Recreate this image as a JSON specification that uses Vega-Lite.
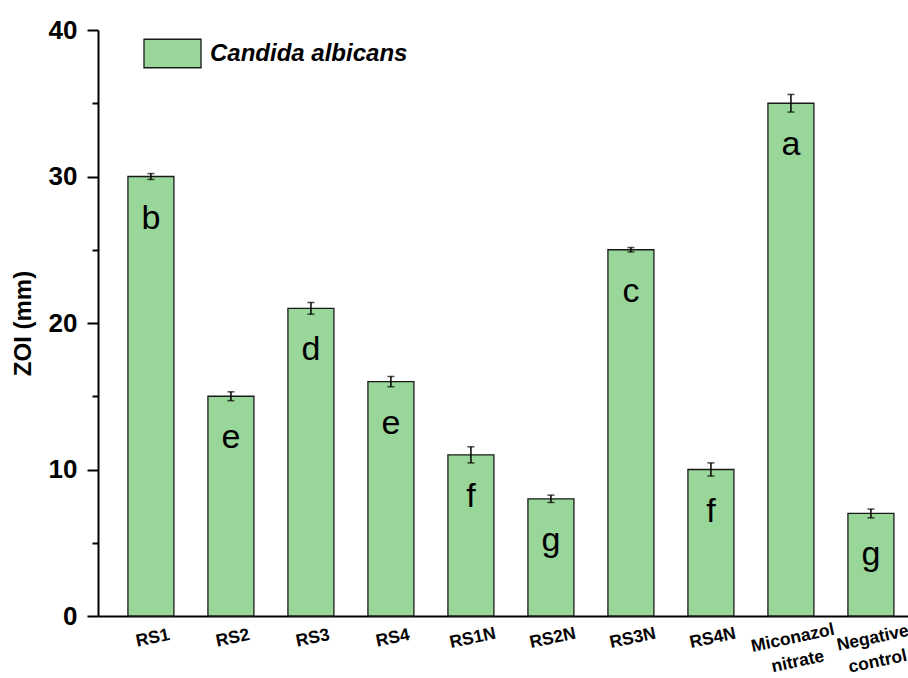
{
  "$schema": "https://vega.github.io/schema/vega-lite/v6.json",
  "autosize": {"type": "none"},
  "width": 810,
  "height": 586,
  "padding": {"left": 98, "top": 30, "right": 0, "bottom": 62},
  "background": "white",
  "config": {
    "view": {"stroke": null},
    "font": "Liberation Sans",
    "axis": {"domainColor": "black", "domainWidth": 2, "tickColor": "black", "tickWidth": 2, "labelColor": "black", "titleColor": "black", "grid": false}
  },
  "data": {
    "values": [
      {"sample": "RS1", "zoi": 30, "err": 0.2, "letter": "b", "organism": "Candida albicans"},
      {"sample": "RS2", "zoi": 15, "err": 0.3, "letter": "e", "organism": "Candida albicans"},
      {"sample": "RS3", "zoi": 21, "err": 0.4, "letter": "d", "organism": "Candida albicans"},
      {"sample": "RS4", "zoi": 16, "err": 0.35, "letter": "e", "organism": "Candida albicans"},
      {"sample": "RS1N", "zoi": 11, "err": 0.55, "letter": "f", "organism": "Candida albicans"},
      {"sample": "RS2N", "zoi": 8, "err": 0.25, "letter": "g", "organism": "Candida albicans"},
      {"sample": "RS3N", "zoi": 25, "err": 0.15, "letter": "c", "organism": "Candida albicans"},
      {"sample": "RS4N", "zoi": 10, "err": 0.45, "letter": "f", "organism": "Candida albicans"},
      {"sample": "Miconazol nitrate", "zoi": 35, "err": 0.6, "letter": "a", "organism": "Candida albicans"},
      {"sample": "Negative control", "zoi": 7, "err": 0.3, "letter": "g", "organism": "Candida albicans"}
    ]
  },
  "encoding": {
    "x": {
      "field": "sample", "type": "nominal", "sort": null,
      "scale": {"paddingInner": 0.425, "paddingOuter": 0.275, "align": 0.68},
      "axis": {"title": null, "ticks": false, "labelAngle": -12, "labelAlign": "center", "labelBaseline": "top", "labelPadding": 13, "labelFont": "Liberation Sans", "labelFontWeight": "bold", "labelFontSize": 17.5, "labelLineHeight": 24, "labelLimit": 200, "labelExpr": "split(datum.label, ' ')"}
    }
  },
  "layer": [
    {
      "mark": {"type": "bar", "stroke": "#1a1a1a", "strokeWidth": 1.3},
      "encoding": {
        "y": {
          "field": "zoi", "type": "quantitative", "title": "ZOI (mm)",
          "scale": {"domain": [0, 40], "nice": false},
          "axis": {
            "title": "ZOI (mm)", "titleFontSize": 24, "titleFontWeight": "bold", "titlePadding": 13,
            "values": [0, 5, 10, 15, 20, 25, 30, 35, 40],
            "labelExpr": "datum.value % 10 === 0 ? datum.label : ''",
            "labelFontSize": 26, "labelFontWeight": "bold", "labelPadding": 10,
            "tickSize": {"condition": {"test": "datum.value % 10 === 0", "value": 11}, "value": 6}
          }
        },
        "color": {
          "field": "organism", "type": "nominal",
          "scale": {"range": ["#98d69a"]},
          "legend": {
            "title": null, "orient": "none", "legendX": 45, "legendY": -6,
            "symbolType": "M-1,-0.5H1V0.5H-1Z", "symbolSize": 3249,
            "symbolStrokeColor": "#1a1a1a", "symbolStrokeWidth": 1.3, "symbolOpacity": 1,
            "labelFontSize": 24, "labelFontWeight": "bold", "labelFontStyle": "italic", "labelColor": "black", "labelOffset": 8, "labelLimit": 400, "padding": 0
          }
        }
      }
    },
    {
      "mark": {"type": "errorbar", "ticks": {"size": 7, "color": "black", "thickness": 1.5}, "rule": {"color": "black", "strokeWidth": 1.5}},
      "encoding": {
        "y": {"field": "zoi", "type": "quantitative", "title": "ZOI (mm)"},
        "yError": {"field": "err"}
      }
    },
    {
      "mark": {"type": "text", "fontSize": 34, "font": "Liberation Sans", "color": "black", "baseline": "middle", "dy": 42},
      "encoding": {
        "y": {"field": "zoi", "type": "quantitative", "title": "ZOI (mm)"},
        "text": {"field": "letter"}
      }
    }
  ]
}
